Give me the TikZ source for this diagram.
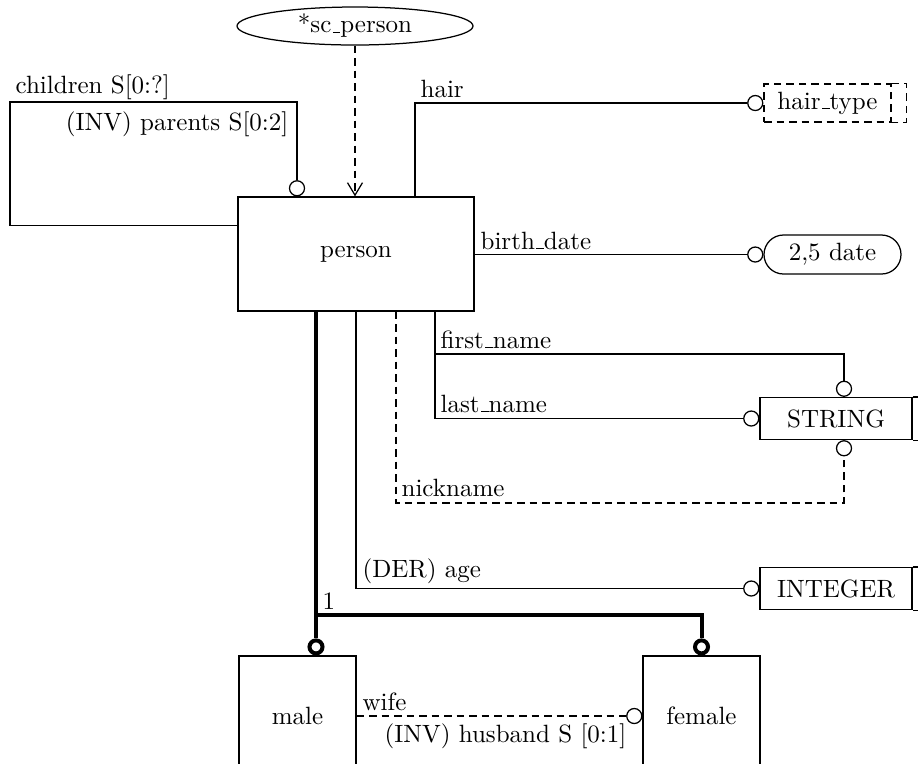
\documentclass[tikz,border=0pt]{standalone}
\usetikzlibrary{arrows.meta,shapes.geometric,shapes.misc}
% underscore drawn as a short rule on the baseline
\newcommand{\uscore}{\leavevmode\kern.06em\vbox{\hrule width.3em}}
\begin{document}
\begin{tikzpicture}[x=0.4pt,y=-0.4pt,line width=0.5pt,
  entity/.style={draw,minimum width=46.8pt,minimum height=48pt,inner sep=0pt},
  simpletype/.style={draw,minimum width=60.8pt,minimum height=16.8pt,inner sep=0pt},
  ring/.style={circle,draw,fill=white,minimum size=6pt,inner sep=0pt},
  supring/.style={circle,draw,fill=white,line width=1.6pt,minimum size=5.2pt,inner sep=0pt},
  lbl/.style={inner sep=0pt},
  optional/.style={dash pattern=on 3pt off 2pt},
  subtype/.style={line width=1.6pt}]
\clip (0,0) rectangle (918,763);

% schema / entity boxes
\node[draw,ellipse,minimum width=94.4pt,minimum height=15.2pt,inner sep=0pt] (sc) at (355,26) {*sc\uscore person};
\node[entity,minimum width=94.4pt,minimum height=45.6pt] (person) at (356,254) {person};
\node[entity] (male) at (297.5,716) {male};
\node[entity] (female) at (701.5,716) {female};

% type boxes
\node[draw,optional,minimum width=50.8pt,minimum height=15.2pt,inner sep=0pt] (hairtype) at (827.5,103) {hair\uscore type};
\draw[optional] (hairtype.north east) -- ++(6pt,0) |- (hairtype.south east);
\node[draw,rounded rectangle,minimum width=54.8pt,minimum height=15.6pt,inner sep=0pt] (date) at (832.5,254.5) {2,5 date};
\node[simpletype] (string) at (836,418.5) {STRING};
\draw (string.north east) -- ++(6pt,0) |- (string.south east);
\node[simpletype] (integer) at (836,588.5) {INTEGER};
\draw (integer.north east) -- ++(6pt,0) |- (integer.south east);

% relationship ends
\node[ring,anchor=south] (rpar) at ([xshift=-23.6pt]person.north) {};
\node[ring,anchor=east] (rhair) at (hairtype.west) {};
\node[ring,anchor=east] (rdate) at (date.west) {};
\node[ring,anchor=south] (rfirst) at ([xshift=3.2pt]string.north) {};
\node[ring,anchor=east] (rlast) at (string.west) {};
\node[ring,anchor=north] (rnick) at ([xshift=3.2pt]string.south) {};
\node[ring,anchor=east] (rage) at (integer.west) {};
\node[supring,anchor=south] (rmale) at ([xshift=7.4pt]male.north) {};
\node[supring,anchor=south] (rfemale) at (female.north) {};
\node[ring,anchor=east] (rhusb) at (female.west) {};

% bend points
\coordinate (loopcorner) at (10,102);
\coordinate (hairbend) at (415,103);
\coordinate (namebend) at (435,354);
\coordinate (nickbend) at (396,503);
\coordinate (split) at (316,615);

% relationships
\draw[optional,-{Straight Barb[length=5pt,width=6pt]}] (sc.south) -- (sc.south |- person.north);
\draw ([yshift=-11.5pt]person.north west) -| (loopcorner) -| (rpar.north);
\draw (person.north -| hairbend) |- (rhair.west);
\draw (person.east |- rdate.west) -- (rdate.west);
\draw (person.south -| namebend) |- (rlast.west);
\draw (namebend) -| (rfirst.north);
\draw[optional] (person.south -| nickbend) -- (nickbend) -| (rnick.south);
\draw (person.south) |- (rage.west);
\draw[subtype] (person.south -| rmale) -- (rmale.north);
\draw[subtype] (split) -| (rfemale.north);
\draw[optional] (male.east |- rhusb.west) -- (rhusb.west);

% labels
\node[lbl,anchor=base west] (lchildren) at (15,93) {children S[0:?]};
\node[lbl,anchor=base east] (lparents) at (289,130) {(INV) parents S[0:2]};
\node[lbl,anchor=base west] (lhair) at (420,97) {hair};
\node[lbl,anchor=base west] (lbirth) at (480,249) {birth\uscore date};
\node[lbl,anchor=base west] (lfirst) at (440,348) {first\uscore name};
\node[lbl,anchor=base west] (llast) at (440,412) {last\uscore name};
\node[lbl,anchor=base west] (lnick) at (401,496) {nickname};
\node[lbl,anchor=base west] (lage) at (362,577) {(DER) age};
\node[lbl,anchor=base west] (lone) at (322,609) {1};
\node[lbl,anchor=base west] (lwife) at (362,710) {wife};
\node[lbl,anchor=base east] (lhusband) at (627,742) {(INV) husband S [0:1]};
\end{tikzpicture}
\end{document}
